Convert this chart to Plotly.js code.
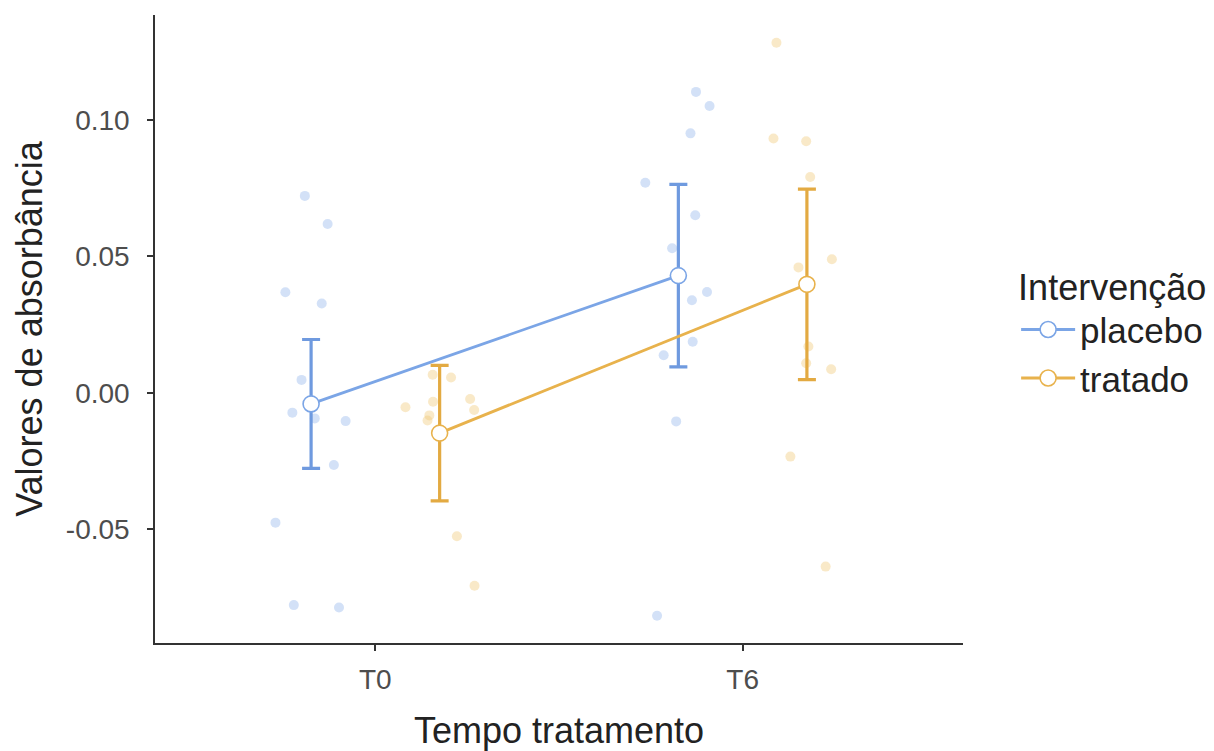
<!DOCTYPE html>
<html>
<head>
<meta charset="utf-8">
<script src="https://cdn.plot.ly/plotly-3.0.1.min.js"></script>
<style>html,body{margin:0;padding:0;background:#fff;}#chart{width:1214px;height:751px;}</style>
</head>
<body>
<div id="chart"></div>
<script>
// ---- data ----
const categories = ['T0', 'T6'];
const groups = ['placebo', 'tratado'];

// group means and error-bar half widths per time point
const placeboMean = [-0.0040, 0.0430];
const placeboErr  = [0.0236, 0.0334];
const tratadoMean = [-0.0147, 0.0398];
const tratadoErr  = [0.0248, 0.0349];

// individual (jittered) observations
const placeboT0 = [0.0722, 0.0619, 0.0369, 0.0328, 0.0048, -0.0072, -0.0093, -0.0103, -0.0264, -0.0475, -0.0777, -0.0786];
const placeboT0Jitter = [-0.192, -0.130, -0.245, -0.146, -0.201, -0.226, -0.165, -0.081, -0.113, -0.272, -0.222, -0.099];
const tratadoT0 = [0.0067, 0.0057, -0.0032, -0.0052, -0.0022, -0.0062, -0.0082, -0.0101, -0.0525, -0.0706];
const tratadoT0Jitter = [0.156, 0.206, 0.157, 0.082, 0.258, 0.269, 0.147, 0.142, 0.222, 0.270];
const placeboT6 = [0.1103, 0.1051, 0.0951, 0.0770, 0.0651, 0.0530, 0.0370, 0.0340, 0.0188, 0.0138, -0.0104, -0.0816];
const placeboT6Jitter = [-0.127, -0.090, -0.142, -0.265, -0.129, -0.192, -0.097, -0.138, -0.136, -0.215, -0.181, -0.233];
const tratadoT6 = [0.1283, 0.0932, 0.0922, 0.0791, 0.0490, 0.0460, 0.0170, 0.0109, 0.0087, -0.0233, -0.0636];
const tratadoT6Jitter = [0.092, 0.084, 0.173, 0.184, 0.243, 0.152, 0.179, 0.173, 0.241, 0.130, 0.226];

const yTicks = [-0.05, 0.00, 0.05, 0.10];
const yTickText = ['-0.05', '0.00', '0.05', '0.10'];

// ---- styling ----
const FONT = 'Liberation Sans, Arial, sans-serif';
const blue = '#7BA5E6', blueErr = '#6F9ADF', blueLight = 'rgba(140,175,235,0.38)';
const gold = '#E8B24C', goldErr = '#E3AA42', goldLight = 'rgba(238,196,110,0.38)';
const dodge = 0.175;
const catPos = categories.map((c, i) => i + 1);

function jitterTrace(vals, jit, ci, color) {
  return {
    type: 'scatter', mode: 'markers',
    x: vals.map((v, i) => catPos[ci] + jit[i]), y: vals,
    marker: {size: 10, color: color, line: {width: 0}},
    showlegend: false, hoverinfo: 'y'
  };
}

function meanTrace(name, means, errs, off, color, errColor) {
  return {
    type: 'scatter', mode: 'lines+markers', name: name,
    x: catPos.map(p => p + off), y: means,
    line: {color: color, width: 2.8},
    marker: {size: 16, color: '#ffffff', line: {color: color, width: 1.6}},
    error_y: {type: 'data', array: errs, visible: true, color: errColor, thickness: 3.2, width: 9}
  };
}

const data = [
  jitterTrace(placeboT0, placeboT0Jitter, 0, blueLight),
  jitterTrace(placeboT6, placeboT6Jitter, 1, blueLight),
  jitterTrace(tratadoT0, tratadoT0Jitter, 0, goldLight),
  jitterTrace(tratadoT6, tratadoT6Jitter, 1, goldLight),
  meanTrace(groups[0], placeboMean, placeboErr, -dodge, blue, blueErr),
  meanTrace(groups[1], tratadoMean, tratadoErr, dodge, gold, goldErr)
];

const layout = {
  width: 1214, height: 751,
  margin: {l: 155, r: 251, t: 15, b: 108},
  paper_bgcolor: '#ffffff', plot_bgcolor: '#ffffff',
  font: {family: FONT, color: '#4D4D4D'},
  xaxis: {
    range: [0.4, 2.6], tickvals: catPos, ticktext: categories,
    showgrid: false, zeroline: false, showline: true, linecolor: '#333333', linewidth: 1.5,
    ticks: 'outside', ticklen: 6, tickwidth: 1.5, tickcolor: '#333333',
    tickfont: {size: 28, color: '#4D4D4D', family: FONT}, ticklabelstandoff: 5,
    title: {text: 'Tempo tratamento', font: {size: 36, color: '#222222', family: FONT}, standoff: 24}
  },
  yaxis: {
    range: [-0.09158, 0.13846], tickvals: yTicks, ticktext: yTickText,
    showgrid: false, zeroline: false, showline: true, linecolor: '#333333', linewidth: 1.5,
    ticks: 'outside', ticklen: 6, tickwidth: 1.5, tickcolor: '#333333',
    tickfont: {size: 28, color: '#4D4D4D', family: FONT}, ticklabelstandoff: 12,
    title: {text: 'Valores de absorbância', font: {size: 36, color: '#222222', family: FONT}, standoff: 12}
  },
  legend: {
    xref: 'container', yref: 'container',
    x: 0.837, y: 0.56, xanchor: 'left', yanchor: 'middle',
    font: {size: 35, color: '#222222', family: FONT},
    title: {text: 'Intervenção', font: {size: 36, color: '#222222', family: FONT}},
    tracegroupgap: 0, itemwidth: 54, bgcolor: 'rgba(0,0,0,0)'
  },
  showlegend: true
};

Plotly.newPlot('chart', data, layout, {displayModeBar: false, responsive: false});
</script>
</body>
</html>
